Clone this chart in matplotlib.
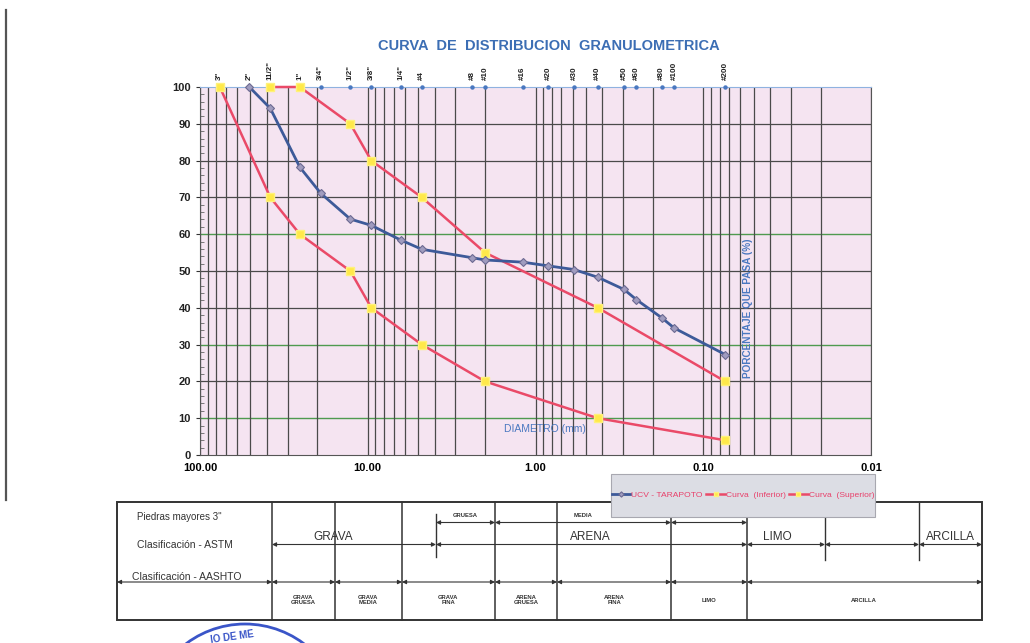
import numpy as np
import matplotlib.pyplot as plt
from matplotlib.patches import Rectangle, Arc
from matplotlib.ticker import FixedLocator, MultipleLocator, NullFormatter

plt.rcParams['font.family'] = ['Liberation Sans', 'DejaVu Sans']

# Tamices ASTM y abertura en mm
tamiz_nombre = ['3"', '2"', '11/2"', '1"', '3/4"', '1/2"', '3/8"', '1/4"', '#4', '#8',
                '#10', '#16', '#20', '#30', '#40', '#50', '#60', '#80', '#100', '#200']
tamiz_mm = [76.2, 50.8, 38.1, 25.4, 19.05, 12.7, 9.525, 6.35, 4.76, 2.38,
            2.0, 1.19, 0.84, 0.59, 0.425, 0.297, 0.25, 0.177, 0.149, 0.074]

# Muestra UCV - TARAPOTO
muestra_mm = tamiz_mm[1:]
muestra_pasa = [100, 94.2, 78.2, 71.1, 64.1, 62.4, 58.4, 55.9, 53.6, 53.0,
                52.4, 51.4, 50.4, 48.3, 45.0, 42.2, 37.3, 34.5, 27.3]

# Huso granulometrico
inf_mm = [76.2, 38.1, 25.4, 12.7, 9.525, 4.76, 2.0, 0.425, 0.074]
inf_pasa = [100, 70, 60, 50, 40, 30, 20, 10, 4]
sup_mm = [38.1, 25.4, 12.7, 9.525, 4.76, 2.0, 0.425, 0.074]
sup_pasa = [100, 100, 90, 80, 70, 55, 40, 20]

x_ticks = [100, 10, 1, 0.1, 0.01]
y_verdes = [10, 30, 60]

W, H = 1030, 643
fig = plt.figure(figsize=(W / 100, H / 100), dpi=100)
fig.patch.set_facecolor('white')

ax = fig.add_axes([200 / W, 1 - 455 / H, 671 / W, 368 / H])
ax.set_xscale('log')
ax.set_xlim(100, 0.01)
ax.set_ylim(0, 100)
ax.set_facecolor('#f5e4f1')

ax.xaxis.set_major_locator(FixedLocator(x_ticks))
ax.set_xticklabels(['%.2f' % v for v in x_ticks], fontsize=8, fontweight='bold')
ax.xaxis.set_minor_formatter(NullFormatter())
ax.grid(which='both', axis='x', color='#4a4a4a', lw=0.9, zorder=1)
for v in range(10, 100, 10):
    ax.axhline(v, color='#4f9a4f' if v in y_verdes else '#4a4a4a', lw=1.0 if v in y_verdes else 0.9, zorder=1)

ax.yaxis.set_major_locator(MultipleLocator(10))
ax.yaxis.set_minor_locator(MultipleLocator(2))
ax.tick_params(axis='y', which='major', direction='out', length=3, labelsize=8, colors='#333333')
ax.tick_params(axis='y', which='minor', direction='in', length=3, color='#666666')
ax.tick_params(axis='x', which='both', length=0, labelsize=8, pad=6)
for lbl in ax.get_yticklabels():
    lbl.set_fontweight('bold')
    lbl.set_color('#222222')

for s in ['left', 'bottom', 'right']:
    ax.spines[s].set_color('#555555')
ax.spines['top'].set_color('#8fb2e0')

# marcas de los tamices en el borde superior
ax.plot(tamiz_mm, [100] * len(tamiz_mm), ls='none', marker='o', ms=2.2,
        color='#4a78c0', clip_on=False, zorder=4)
for nombre, d in zip(tamiz_nombre, tamiz_mm):
    ax.text(d, 1.02, nombre, transform=ax.get_xaxis_transform(), rotation=90,
            ha='center', va='bottom', fontsize=5.8, fontweight='bold', color='#222222')

l1, = ax.plot(muestra_mm, muestra_pasa, color='#3d5a99', lw=2, marker='D', ms=4.5,
              mfc='#a09cbf', mec='#6c6a92', mew=0.8, zorder=5, clip_on=False,
              label='UCV - TARAPOTO')
l2, = ax.plot(inf_mm, inf_pasa, color='#ea4a68', lw=1.8, marker='s', ms=6,
              mfc='#ffe94a', mec='#fff27a', zorder=4, clip_on=False,
              label='Curva  (Inferior)')
l3, = ax.plot(sup_mm, sup_pasa, color='#ea4a68', lw=1.8, marker='s', ms=6,
              mfc='#ffe94a', mec='#fff27a', zorder=4, clip_on=False,
              label='Curva  (Superior)')

ax.text(0.878, 7.1, 'DIAMETRO (mm)', ha='center', va='center', fontsize=7.5, color='#4a78c0')
ax.text(0.054, 40, 'PORCENTAJE QUE PASA (%)', ha='center', va='center', rotation=90,
        fontsize=7.2, fontweight='bold', color='#4a78c0')

fig.text(549 / W, 1 - 46 / H, 'CURVA  DE  DISTRIBUCION  GRANULOMETRICA', ha='center',
         va='center', fontsize=10.5, fontweight='bold', color='#3c6eb4')

# capa en pixeles para la tabla de clasificacion
ov = fig.add_axes([0, 0, 1, 1], zorder=2)
ov.set_xlim(0, W)
ov.set_ylim(H, 0)
ov.axis('off')
ov.patch.set_alpha(0)

ov.plot([6, 6], [10, 500], color='#555555', lw=1.6)

x0, x1, y0, y1 = 117, 982, 502, 620
ov.add_patch(Rectangle((x0, y0), x1 - x0, y1 - y0, fill=False, ec='#333333', lw=1.4))
for xv in [272, 335, 402, 495, 557, 671, 747]:
    ov.plot([xv, xv], [y0, y1], color='#333333', lw=1.1)
for xv, ya, yb in [(436, 514, 557), (825, y0, 560), (919, y0, 560)]:
    ov.plot([xv, xv], [ya, yb], color='#333333', lw=1.0)


def flecha(xa, xb, y):
    ov.annotate('', xy=(xb, y), xytext=(xa, y),
                arrowprops=dict(arrowstyle='<|-|>', color='#333333', lw=0.8,
                                mutation_scale=6, shrinkA=0, shrinkB=0))


fila_a = [(436, 495, 'GRUESA'), (495, 671, 'MEDIA'), (671, 747, 'FINA')]
for xa, xb, t in fila_a:
    flecha(xa, xb, 522.5)
    ov.text((xa + xb) / 2, 518, t, ha='center', va='bottom', fontsize=4.2,
            fontweight='bold', color='#333333')

for xa, xb in [(272, 436), (436, 747), (747, 825), (825, 919), (919, 982)]:
    flecha(xa, xb, 544.5)
for x, t in [(333, 'GRAVA'), (590, 'ARENA'), (777, 'LIMO'), (950, 'ARCILLA')]:
    ov.text(x, 537, t, ha='center', va='center', fontsize=8.5, color='#333333')

for xa, xb in [(117, 272), (272, 335), (335, 402), (402, 495), (495, 557),
               (557, 671), (671, 747), (747, 982)]:
    flecha(xa, xb, 582)

fila_d = [(303, 'GRAVA\nGRUESA'), (368, 'GRAVA\nMEDIA'), (448, 'GRAVA\nFINA'),
          (526, 'ARENA\nGRUESA'), (614, 'ARENA\nFINA'), (709, 'LIMO'), (864, 'ARCILLA')]
for x, t in fila_d:
    ov.text(x, 600, t, ha='center', va='center', fontsize=4.2, fontweight='bold',
            color='#333333', linespacing=1.1)

ov.text(137, 517, "Piedras mayores 3''", ha='left', va='center', fontsize=7, color='#333333')
ov.text(137, 545, 'Clasificación - ASTM', ha='left', va='center', fontsize=7.5, color='#333333')
ov.text(132, 577, 'Clasificación - AASHTO', ha='left', va='center', fontsize=7.5, color='#333333')

# sello
ov.add_patch(Arc((245, 722), 196, 196, theta1=228, theta2=312, color='#3a55c8', lw=2))
ov.text(232, 637, 'IO DE ME', ha='center', va='center', fontsize=7, fontweight='bold',
        color='#3a55c8', rotation=8)

ov.add_patch(Rectangle((611, 474), 264, 43, fc='#dcdde4', ec='#a8a8b0', lw=0.8, zorder=6))
fig.legend(handles=[l1, l2, l3], loc='center', bbox_to_anchor=(743 / W, 1 - 495 / H),
           ncol=3, fontsize=6.1, frameon=False, labelcolor='#e8406a', handlelength=2.2,
           handletextpad=0.1, columnspacing=0.4, markerscale=0.6)

fig.savefig('out.png', dpi=100)
